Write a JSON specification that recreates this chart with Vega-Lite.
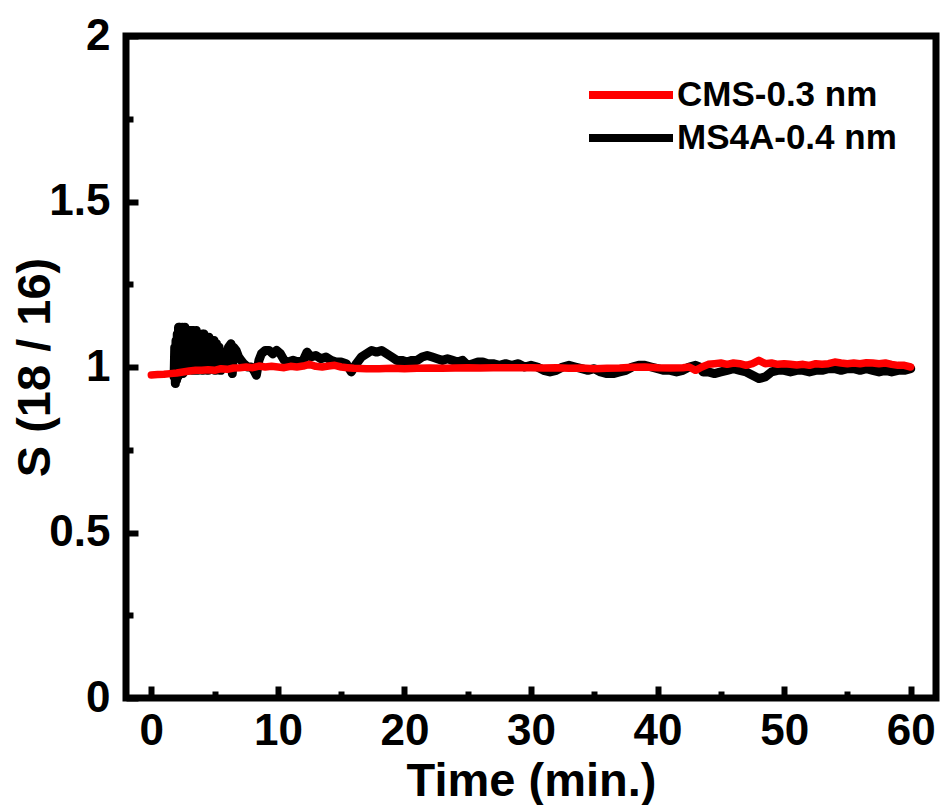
{
  "$schema": "https://vega.github.io/schema/vega-lite/v6.json",
  "width": 810,
  "height": 662,
  "autosize": "none",
  "padding": {"left": 126, "top": 36, "right": 4, "bottom": 107},
  "background": "white",
  "datasets": {
    "ms4a": [
      {"t":1.8,"s":0.97},{"t":1.85,"s":1.06},{"t":1.9,"s":0.95},{"t":1.95,"s":1.08},{"t":2.0,"s":0.96},{"t":2.05,"s":1.10},{"t":2.1,"s":0.97},{"t":2.15,"s":1.12},{"t":2.2,"s":0.98},{"t":2.25,"s":1.12},{"t":2.3,"s":0.99},{"t":2.35,"s":1.11},{"t":2.4,"s":0.98},{"t":2.45,"s":1.12},{"t":2.5,"s":0.98},{"t":2.55,"s":1.11},{"t":2.6,"s":1.0},{"t":2.65,"s":1.12},{"t":2.7,"s":1.0},{"t":2.75,"s":1.11},{"t":2.8,"s":0.99},{"t":2.85,"s":1.11},{"t":2.9,"s":0.99},{"t":2.95,"s":1.10},{"t":3.0,"s":1.0},{"t":3.05,"s":1.11},{"t":3.1,"s":1.0},{"t":3.15,"s":1.11},{"t":3.2,"s":0.99},{"t":3.25,"s":1.11},{"t":3.3,"s":0.99},{"t":3.35,"s":1.11},{"t":3.4,"s":1.0},{"t":3.45,"s":1.10},{"t":3.5,"s":1.0},{"t":3.55,"s":1.11},{"t":3.6,"s":0.99},{"t":3.65,"s":1.10},{"t":3.7,"s":0.99},{"t":3.75,"s":1.10},{"t":3.8,"s":1.0},{"t":3.85,"s":1.10},{"t":3.9,"s":1.0},{"t":3.95,"s":1.09},{"t":4.0,"s":0.99},{"t":4.05,"s":1.10},{"t":4.1,"s":0.99},{"t":4.15,"s":1.10},{"t":4.2,"s":1.0},{"t":4.25,"s":1.09},{"t":4.3,"s":1.0},{"t":4.35,"s":1.09},{"t":4.4,"s":0.99},{"t":4.45,"s":1.09},{"t":4.5,"s":0.99},{"t":4.55,"s":1.09},{"t":4.6,"s":1.0},{"t":4.65,"s":1.08},{"t":4.7,"s":1.0},{"t":4.75,"s":1.08},{"t":4.8,"s":1.0},{"t":4.85,"s":1.08},{"t":4.9,"s":1.0},{"t":4.95,"s":1.08},{"t":5.0,"s":0.99},{"t":5.05,"s":1.07},{"t":5.1,"s":0.99},{"t":5.15,"s":1.07},{"t":5.2,"s":1.0},{"t":5.25,"s":1.06},{"t":5.3,"s":1.0},{"t":5.35,"s":1.06},{"t":5.4,"s":0.99},{"t":5.5,"s":0.99},
      {"t":5.7,"s":1.01},{"t":5.9,"s":1.03},{"t":6.1,"s":1.06},{"t":6.3,"s":1.07},{"t":6.4,"s":0.98},{"t":6.5,"s":1.06},{"t":6.7,"s":1.05},{"t":6.9,"s":1.03},{"t":7.1,"s":1.02},{"t":7.3,"s":1.01},{"t":7.6,"s":1.0},{"t":7.9,"s":1.0},{"t":8.1,"s":0.99},{"t":8.3,"s":0.975},{"t":8.5,"s":1.02},{"t":8.7,"s":1.04},{"t":9.0,"s":1.05},{"t":9.3,"s":1.05},{"t":9.6,"s":1.04},{"t":9.9,"s":1.05},{"t":10.2,"s":1.04},{"t":10.5,"s":1.02},{"t":10.8,"s":1.015},{"t":11.2,"s":1.02},{"t":11.6,"s":1.015},{"t":12.0,"s":1.02},{"t":12.3,"s":1.045},{"t":12.6,"s":1.03},{"t":13.0,"s":1.035},{"t":13.4,"s":1.025},{"t":13.8,"s":1.03},{"t":14.2,"s":1.02},{"t":14.6,"s":1.015},{"t":15.0,"s":1.015},{"t":15.4,"s":1.01},{"t":15.8,"s":0.985},{"t":16.2,"s":1.01},{"t":16.6,"s":1.03},{"t":17.0,"s":1.04},{"t":17.4,"s":1.05},{"t":17.8,"s":1.045},{"t":18.2,"s":1.05},{"t":18.6,"s":1.04},{"t":19.0,"s":1.03},{"t":19.4,"s":1.02},{"t":19.8,"s":1.02},{"t":20.2,"s":1.015},{"t":20.6,"s":1.02},{"t":21.0,"s":1.02},{"t":21.4,"s":1.03},{"t":21.8,"s":1.035},{"t":22.2,"s":1.03},{"t":22.6,"s":1.025},{"t":23.0,"s":1.02},{"t":23.4,"s":1.025},{"t":23.8,"s":1.02},{"t":24.2,"s":1.015},{"t":24.6,"s":1.02},{"t":25.0,"s":1.005},{"t":25.4,"s":1.01},{"t":25.8,"s":1.015},{"t":26.2,"s":1.015},{"t":26.6,"s":1.01},{"t":27.0,"s":1.01},{"t":27.5,"s":1.005},{"t":28.0,"s":1.01},{"t":28.5,"s":1.005},{"t":29.0,"s":1.01},{"t":29.5,"s":1.0},{"t":30.0,"s":1.005},{"t":30.5,"s":1.0},{"t":31.0,"s":0.99},{"t":31.5,"s":0.985},{"t":32.0,"s":0.99},{"t":32.5,"s":1.0},{"t":33.0,"s":1.005},{"t":33.5,"s":1.0},{"t":34.0,"s":0.995},{"t":34.5,"s":0.99},{"t":35.0,"s":0.995},{"t":35.5,"s":0.985},{"t":36.0,"s":0.98},{"t":36.5,"s":0.98},{"t":37.0,"s":0.985},{"t":37.5,"s":0.99},{"t":38.0,"s":1.0},{"t":38.5,"s":1.005},{"t":39.0,"s":1.005},{"t":39.5,"s":1.0},{"t":40.0,"s":0.995},{"t":40.5,"s":0.99},{"t":41.0,"s":0.99},{"t":41.5,"s":0.985},{"t":42.0,"s":0.99},{"t":42.5,"s":1.0},{"t":43.0,"s":1.005},{"t":43.3,"s":1.0},{"t":43.6,"s":0.985},{"t":44.0,"s":0.985},{"t":44.5,"s":0.98},{"t":45.0,"s":0.985},{"t":45.5,"s":0.99},{"t":46.0,"s":0.995},{"t":46.5,"s":0.99},{"t":47.0,"s":0.985},{"t":47.5,"s":0.975},{"t":48.0,"s":0.965},{"t":48.5,"s":0.97},{"t":49.0,"s":0.985},{"t":49.5,"s":0.99},{"t":50.0,"s":0.99},{"t":50.5,"s":0.985},{"t":51.0,"s":0.99},{"t":51.5,"s":0.99},{"t":52.0,"s":0.985},{"t":52.5,"s":0.99},{"t":53.0,"s":0.99},{"t":53.5,"s":0.995},{"t":54.0,"s":0.995},{"t":54.5,"s":0.99},{"t":55.0,"s":0.995},{"t":55.5,"s":0.995},{"t":56.0,"s":0.99},{"t":56.5,"s":0.995},{"t":57.0,"s":0.99},{"t":57.5,"s":0.985},{"t":58.0,"s":0.99},{"t":58.5,"s":0.985},{"t":59.0,"s":0.99},{"t":59.5,"s":0.99},{"t":60.0,"s":0.995}
    ],
    "cms": [
      {"t":0,"s":0.976},{"t":0.5,"s":0.977},{"t":1,"s":0.978},{"t":1.5,"s":0.98},{"t":2,"s":0.982},{"t":2.5,"s":0.985},{"t":3,"s":0.988},{"t":3.5,"s":0.99},{"t":4,"s":0.99},{"t":4.5,"s":0.992},{"t":5,"s":0.99},{"t":5.5,"s":0.995},{"t":6,"s":0.993},{"t":6.5,"s":0.997},{"t":7,"s":0.998},{"t":7.5,"s":1.0},{"t":8,"s":0.998},{"t":8.5,"s":1.003},{"t":9,"s":1.0},{"t":9.5,"s":1.002},{"t":10,"s":1.0},{"t":10.5,"s":0.998},{"t":11,"s":1.002},{"t":11.5,"s":1.0},{"t":12,"s":1.003},{"t":12.5,"s":1.008},{"t":13,"s":1.002},{"t":13.5,"s":1.0},{"t":14,"s":1.003},{"t":14.5,"s":1.005},{"t":15,"s":1.0},{"t":15.5,"s":0.998},{"t":16,"s":0.996},{"t":17,"s":0.995},{"t":18,"s":0.995},{"t":19,"s":0.996},{"t":20,"s":0.995},{"t":21,"s":0.996},{"t":22,"s":0.997},{"t":23,"s":0.996},{"t":24,"s":0.997},{"t":25,"s":0.998},{"t":26,"s":0.997},{"t":27,"s":0.998},{"t":28,"s":0.998},{"t":29,"s":0.998},{"t":30,"s":0.998},{"t":31,"s":0.997},{"t":32,"s":0.998},{"t":33,"s":0.996},{"t":34,"s":0.997},{"t":35,"s":0.995},{"t":36,"s":0.996},{"t":37,"s":0.997},{"t":38,"s":0.999},{"t":39,"s":1.0},{"t":40,"s":0.998},{"t":41,"s":0.997},{"t":42,"s":0.998},{"t":42.5,"s":1.0},{"t":43,"s":0.99},{"t":43.5,"s":1.0},{"t":44,"s":1.008},{"t":44.5,"s":1.01},{"t":45,"s":1.012},{"t":45.5,"s":1.008},{"t":46,"s":1.012},{"t":46.5,"s":1.01},{"t":47,"s":1.005},{"t":47.5,"s":1.01},{"t":48,"s":1.02},{"t":48.5,"s":1.01},{"t":49,"s":1.012},{"t":49.5,"s":1.008},{"t":50,"s":1.01},{"t":50.5,"s":1.008},{"t":51,"s":1.006},{"t":51.5,"s":1.008},{"t":52,"s":1.005},{"t":52.5,"s":1.01},{"t":53,"s":1.008},{"t":53.5,"s":1.01},{"t":54,"s":1.015},{"t":54.5,"s":1.012},{"t":55,"s":1.01},{"t":55.5,"s":1.012},{"t":56,"s":1.01},{"t":56.5,"s":1.013},{"t":57,"s":1.012},{"t":57.5,"s":1.01},{"t":58,"s":1.012},{"t":58.5,"s":1.008},{"t":59,"s":1.005},{"t":59.5,"s":1.005},{"t":60,"s":1.0}
    ]
  },
  "layer": [
    {
      "data": {"name": "ms4a"},
      "transform": [{"calculate": "'MS4A-0.4 nm'", "as": "series"}],
      "mark": {"type": "line", "strokeWidth": 9, "strokeCap": "round", "strokeJoin": "round", "clip": true},
      "encoding": {
        "x": {"field": "t", "type": "quantitative", "scale": {"domain": [-2, 62], "nice": false, "zero": false},
          "axis": {"orient": "bottom", "values": [0,10,20,30,40,50,60], "title": "Time (min.)", "tickSize": -12, "labelPadding": 23, "titlePadding": 5}},
        "y": {"field": "s", "type": "quantitative", "scale": {"domain": [0, 2], "nice": false, "zero": false},
          "axis": {"orient": "left", "values": [0, 0.5, 1, 1.5, 2], "labelExpr": "datum.value", "title": "S (18 / 16)", "tickSize": -12, "labelPadding": 28, "titlePadding": -11}},
        "color": {"field": "series", "type": "nominal",
          "scale": {"domain": ["CMS-0.3 nm", "MS4A-0.4 nm"], "range": ["#ff0000", "#000000"]},
          "legend": {"orient": "none", "legendX": 480, "legendY": 34, "title": null}}
      }
    },
    {
      "data": {"name": "cms"},
      "transform": [{"calculate": "'CMS-0.3 nm'", "as": "series"}],
      "mark": {"type": "line", "strokeWidth": 7.5, "strokeCap": "round", "strokeJoin": "round", "clip": true},
      "encoding": {
        "x": {"field": "t", "type": "quantitative",
          "axis": {"orient": "bottom", "values": [5,15,25,35,45,55], "labels": false, "title": null, "tickSize": -7}},
        "y": {"field": "s", "type": "quantitative",
          "axis": {"orient": "left", "values": [0.25, 0.75, 1.25, 1.75], "labels": false, "title": null, "tickSize": -7}},
        "color": {"field": "series", "type": "nominal"}
      }
    }
  ],
  "resolve": {"axis": {"x": "independent", "y": "independent"}},
  "config": {
    "font": "Liberation Sans",
    "view": {"stroke": "#000000", "strokeWidth": 7},
    "axis": {
      "domain": false, "grid": false,
      "tickColor": "#000000", "tickWidth": 6,
      "labelFont": "Liberation Sans", "labelFontSize": 44, "labelFontWeight": "bold", "labelColor": "#000000",
      "titleFont": "Liberation Sans", "titleFontSize": 47, "titleFontWeight": "bold", "titleColor": "#000000"
    },
    "legend": {
      "symbolType": "M-2,0H2", "symbolSize": 1764, "symbolStrokeWidth": 8,
      "labelFont": "Liberation Sans", "labelFontSize": 35, "labelFontWeight": "bold", "labelColor": "#000000",
      "labelOffset": 21, "labelLimit": 400, "rowPadding": -6, "padding": 0
    }
  }
}
